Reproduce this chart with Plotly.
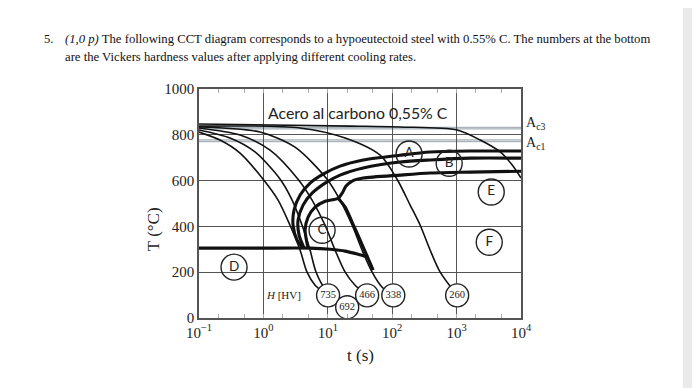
import math
import plotly.graph_objects as go

# ---------------- data (time in s, temperature in °C) ----------------
cool_735_t = [0.1, 0.212, 0.434, 0.99, 1.69, 2.59, 3.72, 4.76, 6.35, 8.15, 10.1]
cool_735_T = [812, 777, 720, 606, 515, 405, 296, 200, 143, 117, 99]

cool_692_t = [0.1, 0.303, 0.741, 1.82, 2.79, 3.99, 5.31, 6.58, 9.42, 20.0]
cool_692_T = [821, 786, 725, 606, 515, 405, 296, 200, 121, 47]

cool_466_t = [0.1, 0.434, 1.27, 3.45, 5.70, 9.08, 13.0, 18.6, 26.5, 40.8]
cool_466_T = [830, 799, 733, 606, 515, 405, 296, 200, 143, 99]

cool_338_t = [0.1, 0.887, 3.10, 9.75, 15.5, 23.9, 34.1, 48.8, 69.8, 104]
cool_338_T = [834, 812, 746, 606, 515, 405, 296, 200, 134, 99]

cool_260_t = [0.1, 3.72, 18.6, 65.0, 119, 190, 272, 389, 556, 1020]
cool_260_T = [838, 830, 786, 711, 606, 493, 405, 296, 200, 99]

cool_slow_t = [0.1, 22.2, 133, 1020, 2328, 4753, 7311, 10000]
cool_slow_T = [847, 838, 834, 821, 777, 725, 668, 611]

trans_a_t = [10000, 1626, 389, 133, 35.4, 15.5, 8.45, 5.31, 3.72, 2.99, 2.89, 3.34, 4.13]
trans_a_T = [729, 729, 725, 711, 690, 663, 628, 589, 537, 471, 405, 340, 305]

trans_b_t = [10000, 1626, 389, 133, 35.4, 15.5, 9.08, 5.70, 4.13, 3.45, 3.58, 4.29]
trans_b_T = [698, 698, 690, 681, 655, 624, 589, 545, 493, 427, 362, 305]

trans_c_t = [10000, 1626, 389, 133, 35.4, 23.9, 19.2, 16.7, 14.5, 9.08, 6.35, 4.94, 4.44, 4.94]
trans_c_T = [641, 637, 633, 624, 611, 598, 576, 545, 523, 510, 484, 440, 383, 305]

bain_end_t = [14.5, 18.6, 23.9, 31.8, 40.8, 50.6]
bain_end_T = [523, 484, 418, 340, 270, 209]

ms_t = [0.1, 0.887, 5.31, 10.9, 18.6, 29.6, 42.3]
ms_T = [305, 305, 305, 300, 292, 278, 265]

ac3_T = [832, 826]
ac1_T = [778, 771]

hv_labels = ["735", "692", "466", "338", "260"]
hv_t = [10.1, 20.0, 40.8, 104, 1020]
hv_T = [99, 47, 99, 99, 99]

zone_labels = ["A", "B", "C", "D", "E", "F"]
zone_t = [183, 767, 8.15, 0.35, 3451, 3213]
zone_T = [716, 676, 383, 222, 550, 331]

title_t, title_T = 29.6, 899
hv_note_t, hv_note_T = 2.02, 99

x_tickvals = [0.1, 1, 10, 100, 1000, 10000]
x_ticktext = ["10<sup>\u22121</sup>", "10<sup>0</sup>", "10<sup>1</sup>",
              "10<sup>2</sup>", "10<sup>3</sup>", "10<sup>4</sup>"]
y_tickvals = [0, 200, 400, 600, 800, 1000]

SERIF = "Liberation Serif"
SANS = "Lato"

# plot-area geometry in page pixels (body margin of 8 px is compensated)
PL, PR, PT, PB = 199, 521, 89, 317.7
PW, PH = PR - PL, PB - PT


def px(xp):
    return (xp - PL) / PW


def py(yp):
    return (PB - yp) / PH


fig = go.Figure()

for T in ac3_T + ac1_T:
    fig.add_shape(type="line", xref="paper", yref="y", x0=0, x1=1, y0=T, y1=T,
                  line=dict(color="#aab4ba", width=1.4), layer="below")

thin = dict(color="#111", width=1.6, shape="spline", smoothing=0.8)
for tt, TT in [(cool_735_t, cool_735_T), (cool_692_t, cool_692_T),
               (cool_466_t, cool_466_T), (cool_338_t, cool_338_T),
               (cool_260_t, cool_260_T), (cool_slow_t, cool_slow_T)]:
    fig.add_trace(go.Scatter(x=tt, y=TT, mode="lines", line=thin,
                             hoverinfo="skip", showlegend=False))

thick = dict(color="#111", width=3.1, shape="spline", smoothing=0.7)
for tt, TT in [(trans_a_t, trans_a_T), (trans_b_t, trans_b_T),
               (trans_c_t, trans_c_T), (bain_end_t, bain_end_T), (ms_t, ms_T)]:
    fig.add_trace(go.Scatter(x=tt, y=TT, mode="lines", line=thick,
                             hoverinfo="skip", showlegend=False))

fig.add_trace(go.Scatter(
    x=zone_t, y=zone_T, mode="markers+text", text=zone_labels,
    textposition="middle center",
    textfont=dict(family=SANS, size=13.5, color="#222"),
    marker=dict(size=26, color="rgba(0,0,0,0)", line=dict(color="#222", width=1.4)),
    hoverinfo="skip", showlegend=False, cliponaxis=False))

fig.add_trace(go.Scatter(
    x=hv_t, y=hv_T, mode="markers+text", text=hv_labels,
    textposition="middle center",
    textfont=dict(family=SERIF, size=10.5, color="#222"),
    marker=dict(size=23, color="white", line=dict(color="#222", width=1.4)),
    hoverinfo="skip", showlegend=False, cliponaxis=False))

fig.add_trace(go.Scatter(x=[1], y=[0], xaxis="x2", mode="markers",
                         marker=dict(size=0.1, opacity=0), hoverinfo="skip",
                         showlegend=False))

ann = []
ann.append(dict(x=math.log10(title_t), y=title_T, xref="x", yref="y",
                text="Acero al carbono 0,55% C", xanchor="center", yanchor="middle",
                showarrow=False, font=dict(family=SANS, size=15.8, color="#222")))
ann.append(dict(x=math.log10(hv_note_t), y=hv_note_T, xref="x", yref="y",
                text="<i>H</i> [HV]", xanchor="center", yanchor="middle",
                showarrow=False, font=dict(family=SERIF, size=11, color="#222")))
ann.append(dict(x=1, y=851, xref="paper", yref="y", xshift=3, xanchor="left",
                yanchor="middle", text="A<sub>c3</sub>", showarrow=False,
                font=dict(family=SERIF, size=14, color="#222")))
ann.append(dict(x=1, y=760, xref="paper", yref="y", xshift=3, xanchor="left",
                yanchor="middle", text="A<sub>c1</sub>", showarrow=False,
                font=dict(family=SERIF, size=14, color="#222")))
ann.append(dict(x=px(360), y=py(355), xref="paper", yref="paper",
                xanchor="center", yanchor="middle", text="t (s)", showarrow=False,
                font=dict(family=SERIF, size=17, color="#222")))
ann.append(dict(x=px(153), y=py(229), xref="paper", yref="paper",
                xanchor="center", yanchor="middle", text="T (\u00b0C)", textangle=-90,
                showarrow=False, font=dict(family=SERIF, size=17, color="#222")))
ann.append(dict(x=px(42), y=py(39), xref="paper", yref="paper",
                xanchor="left", yanchor="middle", text="5.", showarrow=False,
                font=dict(family=SERIF, size=12.7, color="#111")))
ann.append(dict(x=px(63), y=py(39), xref="paper", yref="paper",
                xanchor="left", yanchor="middle",
                text="<i>(1,0 p)</i> The following CCT diagram corresponds to a hypoeutectoid steel with 0.55% C. The numbers at the bottom",
                showarrow=False, font=dict(family=SERIF, size=12.7, color="#111")))
ann.append(dict(x=px(63), y=py(57), xref="paper", yref="paper",
                xanchor="left", yanchor="middle",
                text="are the Vickers hardness values after applying different cooling rates.",
                showarrow=False, font=dict(family=SERIF, size=12.7, color="#111")))

fig.add_shape(type="rect", xref="paper", yref="paper",
              x0=px(683), x1=px(712), y0=py(420), y1=py(-20),
              fillcolor="#eaeaea", line=dict(width=0), layer="below")

minor = dict(ticks="inside", ticklen=4, tickcolor="#aaa", showgrid=False)
fig.update_layout(
    width=700, height=388,
    margin=dict(l=PL - 8, r=700 - PR + 8, t=PT - 8, b=388 - PB + 8),
    paper_bgcolor="white", plot_bgcolor="white",
    annotations=ann, showlegend=False,
    xaxis=dict(type="log", range=[-1, 4], tickvals=x_tickvals, ticktext=x_ticktext,
               showgrid=True, gridcolor="#555", gridwidth=1.2,
               showline=True, linecolor="#555", linewidth=1.5, mirror=True,
               ticks="inside", ticklen=0, tickcolor="#555", minor=minor,
               tickfont=dict(family=SERIF, size=15, color="#222"),
               zeroline=False, fixedrange=True),
    xaxis2=dict(type="log", range=[-1, 4], overlaying="x", side="top",
                showgrid=False, showticklabels=False, tickvals=x_tickvals,
                ticks="inside", ticklen=0, minor=minor, zeroline=False,
                showline=False, fixedrange=True),
    yaxis=dict(range=[0, 1000], tickvals=y_tickvals,
               showgrid=True, gridcolor="#555", gridwidth=1.2,
               showline=True, linecolor="#555", linewidth=1.5, mirror=True,
               ticks="", tickfont=dict(family=SERIF, size=15, color="#222"),
               zeroline=False, fixedrange=True),
)

fig.write_html("out.html")
